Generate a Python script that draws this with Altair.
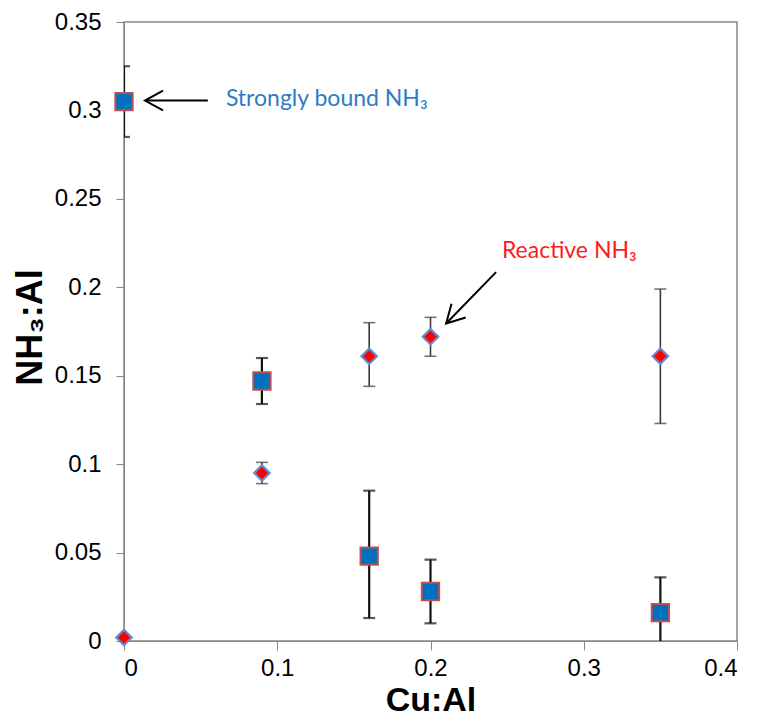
import altair as alt
import pandas as pd

# ---- data ----
cu_al = [0.0, 0.09, 0.16, 0.20, 0.35]

strong = [0.305, 0.147, 0.048, 0.028, 0.016]
strong_lo = [0.285, 0.134, 0.013, 0.010, -0.005]
strong_hi = [0.325, 0.160, 0.085, 0.046, 0.036]

reactive = [0.002, 0.095, 0.161, 0.172, 0.161]
reactive_lo = [None, 0.089, 0.144, 0.161, 0.123]
reactive_hi = [None, 0.101, 0.180, 0.183, 0.199]

ann_text = ["Strongly bound NH\u2083", "Reactive NH\u2083"]
ann_x = [0.0665, 0.2466]
ann_y = [0.3024, 0.2168]
ann_color = ["#2F7BC5", "#FF1A1A"]
ann_size = [23, 23]

arrow_x = [0.0547, 0.2428]
arrow_y = [0.3056, 0.2086]
arrow_x2 = [0.0137, 0.2102]
arrow_y2 = [0.3056, 0.1795]
arrow_angle = [180, 134]

x_ticks = [0, 0.1, 0.2, 0.3, 0.4]
y_ticks = [0, 0.05, 0.1, 0.15, 0.2, 0.25, 0.3, 0.35]

# ---- tables ----
sq = pd.DataFrame({"x": cu_al, "y": strong, "lo": strong_lo, "hi": strong_hi})
di = pd.DataFrame({"x": cu_al, "y": reactive, "lo": reactive_lo, "hi": reactive_hi}).dropna()
di_pts = pd.DataFrame({"x": cu_al, "y": reactive})
ann = pd.DataFrame({"x": ann_x, "y": ann_y, "t": ann_text, "c": ann_color, "s": ann_size})
arr = pd.DataFrame({"x": arrow_x, "y": arrow_y, "x2": arrow_x2, "y2": arrow_y2, "a": arrow_angle})

axis_gray = "#868686"
xs = alt.Scale(domain=[0, 0.4], nice=False, zero=False)
ys = alt.Scale(domain=[0, 0.35], nice=False, zero=False)

X = alt.X("x:Q", scale=xs, axis=alt.Axis(
    values=x_ticks, format="~g", title="Cu:Al", grid=False,
    domainColor=axis_gray, tickColor=axis_gray, tickSize=9, labelPadding=6,
    labelFont="Liberation Sans", labelFontSize=24, labelColor="#000000",
    titleFont="Liberation Sans", titleFontSize=34, titleFontWeight="bold",
    titleColor="#000000", titleY=69, titleBaseline="alphabetic"))
Y = alt.Y("y:Q", scale=ys, axis=alt.Axis(
    values=y_ticks, format="~g", title="NH\u2083:Al", grid=False,
    domainColor=axis_gray, tickColor=axis_gray, tickSize=8, labelPadding=15,
    labelFont="Liberation Sans", labelFontSize=24, labelColor="#000000",
    titleFont="Liberation Sans", titleFontSize=36, titleFontWeight="bold",
    titleColor="#000000", titleAngle=-90, titleX=-83, titleY=305,
    titleAlign="center", titleBaseline="alphabetic"))

# error bars
sq_bar = alt.Chart(sq).mark_rule(color="#111111", strokeWidth=2.2, clip=True).encode(
    x=alt.X("x:Q", scale=xs), y=alt.Y("lo:Q", scale=ys), y2="hi:Q")
sq_cap_lo = alt.Chart(sq).mark_tick(color="#111111", thickness=2.2, size=12, orient="horizontal", clip=True).encode(
    x=alt.X("x:Q", scale=xs), y=alt.Y("lo:Q", scale=ys))
sq_cap_hi = alt.Chart(sq).mark_tick(color="#111111", thickness=2.2, size=12, orient="horizontal", clip=True).encode(
    x=alt.X("x:Q", scale=xs), y=alt.Y("hi:Q", scale=ys))

di_bar = alt.Chart(di).mark_rule(color="#3a3a3a", strokeWidth=1.6, clip=True).encode(
    x=alt.X("x:Q", scale=xs), y=alt.Y("lo:Q", scale=ys), y2="hi:Q")
di_cap_lo = alt.Chart(di).mark_tick(color="#3a3a3a", thickness=1.6, size=12, orient="horizontal", clip=True).encode(
    x=alt.X("x:Q", scale=xs), y=alt.Y("lo:Q", scale=ys))
di_cap_hi = alt.Chart(di).mark_tick(color="#3a3a3a", thickness=1.6, size=12, orient="horizontal", clip=True).encode(
    x=alt.X("x:Q", scale=xs), y=alt.Y("hi:Q", scale=ys))

# markers
sq_pts = alt.Chart(sq).mark_point(shape="square", filled=True, fill="#0070C0", stroke="#C0504D",
                                  strokeWidth=2, size=300, opacity=1).encode(x=X, y=Y)
di_marks = alt.Chart(di_pts).mark_point(shape="diamond", filled=True, fill="#FF0000", stroke="#5B8FD0",
                                        strokeWidth=2.2, size=240, opacity=1).encode(
    x=alt.X("x:Q", scale=xs), y=alt.Y("y:Q", scale=ys))

# annotations
arrow_shaft = alt.Chart(arr).mark_rule(color="#000000", strokeWidth=2).encode(
    x=alt.X("x:Q", scale=xs), y=alt.Y("y:Q", scale=ys), x2="x2:Q", y2="y2:Q")
arrow_head = alt.Chart(arr).mark_point(shape="M -1 -0.55 L 0 0 L -1 0.55", filled=False,
                                       stroke="#000000", strokeWidth=2, size=1296, opacity=1).encode(
    x=alt.X("x2:Q", scale=xs), y=alt.Y("y2:Q", scale=ys), angle=alt.Angle("a:Q", scale=None))
labels = alt.Chart(ann).mark_text(align="left", baseline="alphabetic", font="Lato").encode(
    x=alt.X("x:Q", scale=xs), y=alt.Y("y:Q", scale=ys), text="t:N",
    color=alt.Color("c:N", scale=None), size=alt.Size("s:Q", scale=None))

chart = alt.layer(
    sq_bar, sq_cap_lo, sq_cap_hi, di_bar, di_cap_lo, di_cap_hi,
    sq_pts, di_marks, arrow_shaft, arrow_head, labels
).properties(
    width=613, height=619,
    autosize=alt.AutoSizeParams(type="none"),
    padding={"left": 116, "top": 14, "right": 12, "bottom": 78},
    background="#FFFFFF",
).configure_view(stroke=axis_gray, strokeWidth=1.5)

chart.save("out.html", embed_options={"renderer": "svg", "actions": False})
